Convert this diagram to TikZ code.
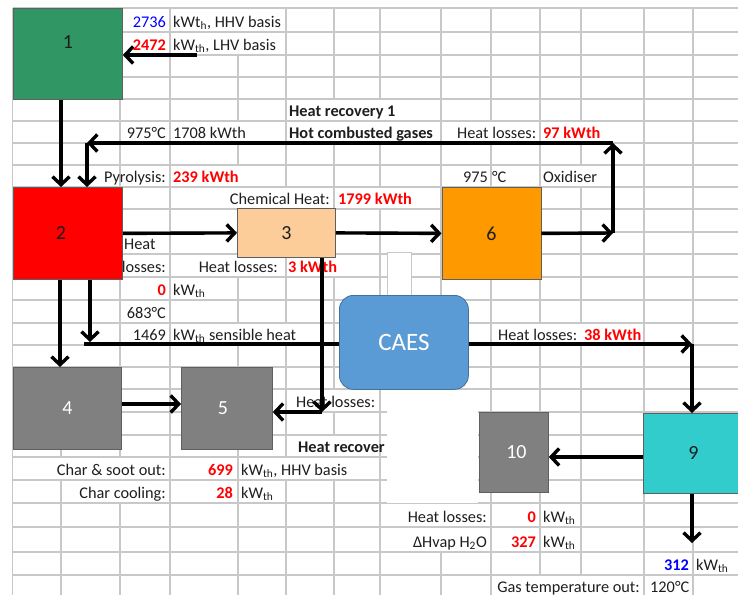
\documentclass[tikz,border=0pt]{standalone}
\usepackage{fontspec}
\setmainfont{Carlito}
\usetikzlibrary{arrows.meta}

\definecolor{gridgray}{RGB}{200,200,200}
\definecolor{boxedge}{RGB}{95,95,95}
\definecolor{cgreen}{RGB}{47,150,100}
\definecolor{cred}{RGB}{255,0,0}
\definecolor{cpeach}{RGB}{252,204,153}
\definecolor{corange}{RGB}{255,153,0}
\definecolor{cgray}{RGB}{128,128,128}
\definecolor{ccyan}{RGB}{51,204,204}
\definecolor{cblue}{RGB}{91,155,213}
\definecolor{cblueedge}{RGB}{65,113,156}
\definecolor{vred}{RGB}{255,0,0}
\definecolor{vblue}{RGB}{0,0,255}
\definecolor{ink}{RGB}{30,30,30}

\begin{document}
\begin{tikzpicture}[x=1pt,y=-1pt,
  gridline/.style={draw=gridgray, line width=1.4pt},
  box/.style={draw=boxedge, line width=0.8pt, anchor=north west, inner sep=0pt,
              font=\fontsize{20}{24}\selectfont},
  tag/.style={font=\fontsize{20}{24}\selectfont, inner sep=0pt},
  txt/.style={inner sep=0pt, font=\fontsize{16.3}{19}\selectfont, text=ink},
  val/.style={inner sep=0pt, font=\fontsize{16.3}{19}\selectfont\bfseries, text=vred},
  bval/.style={inner sep=0pt, font=\fontsize{16.3}{19}\selectfont\bfseries, text=vblue},
  hd/.style={inner sep=0pt, font=\fontsize{16.3}{19}\selectfont\bfseries, text=ink},
  arr/.style={draw=black, line width=3.4pt, -{Straight Barb[length=8pt,width=17pt]}},
  pipe/.style={draw=black, line width=3.4pt}
]
\useasboundingbox (0,0) rectangle (738,595);

% ---- spreadsheet grid: columns
\foreach \gx in {12.7,120,170,238,286,334,380,441,491,540,581,644,693}
  \draw[gridline] (\gx,8) -- (\gx,595);
\draw[gridline] (61,435) -- (61,595);

% cells where overflowing text hides the column line
\foreach \gx/\gt/\gb in {238/8/32, 238/32/55,
    334/99/121, 380/99/121,
    238/121/143, 334/121/143, 380/121/143, 491/121/143, 581/121/143,
    238/165/187, 581/165/187,
    238/187/209, 286/187/209, 380/187/209,
    238/254/277, 334/254/277,
    238/323/345, 286/323/345, 540/323/345, 581/323/345,
    334/389/412, 334/435/457,
    61/457/480, 120/457/480, 286/457/480, 334/457/480,
    120/480/503,
    441/503/527, 441/527/552,
    540/575/595, 581/575/595}
  \fill[white] ({\gx-2.5},\gt) rectangle ({\gx+2.5},\gb);

% ---- spreadsheet grid: rows
\foreach \gy in {8,32,55,77,99,121,143,165,187,209,232,254,277,300,323,345,367,389,412,435,457,480,503,527,552,575}
  \draw[gridline] (12.7,\gy) -- (738,\gy);

% ---- cell texts
\node[txt, text=vblue, anchor=base east] (t01) at (166,27) {2736};
\node[txt, anchor=base west] (t02) at (173,27) {kWt\textsubscript{h}, HHV basis};
\node[val, anchor=base east] (t03) at (166,50) {2472};
\node[txt, anchor=base west] (t04) at (173,50) {kW\textsubscript{th}, LHV basis};

\node[hd, anchor=base west] (t05) at (289,116) {Heat recovery 1};
\node[txt, anchor=base east] (t06) at (166,138) {975°C};
\node[txt, anchor=base west] (t07) at (173,138) {1708 kWth};
\node[hd, anchor=base west] (t08) at (289,138) {Hot combusted gases};
\node[txt, anchor=base west] (t09) at (457,138) {Heat losses:};
\node[val, anchor=base west] (t10) at (543,138) {97 kWth};

\node[txt, anchor=base east] (t11) at (166,182) {Pyrolysis:};
\node[val, anchor=base west] (t12) at (173,182) {239 kWth};
\node[txt, anchor=base east] (t13) at (488,182) {975};
\node[txt, anchor=base west] (t14) at (492,182) {°C};
\node[txt, anchor=base west] (t15) at (543,182) {Oxidiser};

\node[txt, anchor=base east] (t16) at (330,204) {Chemical Heat:};
\node[val, anchor=base west] (t17) at (338,204) {1799 kWth};

\node[txt, anchor=base west] (t18) at (124,249) {Heat};
\node[txt, anchor=base east] (t19) at (166,272) {losses:};
\node[txt, anchor=base east] (t20) at (278,272) {Heat losses:};
\node[val, anchor=base west] (t21) at (288,272) {3 kWth};

\node[val, anchor=base east] (t22) at (166,295) {0};
\node[txt, anchor=base west] (t23) at (173,295) {kW\textsubscript{th}};
\node[txt, anchor=base east] (t24) at (166,318) {683°C};
\node[txt, anchor=base east] (t25) at (166,340) {1469};
\node[txt, anchor=base west] (t26) at (173,340) {kW\textsubscript{th} sensible heat};
\node[txt, anchor=base west] (t27) at (498,340) {Heat losses:};
\node[val, anchor=base west] (t28) at (584,340) {38 kWth};

\node[txt, anchor=base west] (t29) at (296,407) {Heat losses:};
\node[hd, anchor=base west] (t30) at (298,452) {Heat recover};

\node[txt, anchor=base east] (t31) at (166,475) {Char \& soot out:};
\node[val, anchor=base east] (t32) at (233,475) {699};
\node[txt, anchor=base west] (t33) at (241,475) {kW\textsubscript{th}, HHV basis};
\node[txt, anchor=base east] (t34) at (166,498) {Char cooling:};
\node[val, anchor=base east] (t35) at (233,498) {28};
\node[txt, anchor=base west] (t36) at (241,498) {kW\textsubscript{th}};

\node[txt, anchor=base east] (t37) at (487,522) {Heat losses:};
\node[val, anchor=base east] (t38) at (536,522) {0};
\node[txt, anchor=base west] (t39) at (543,522) {kW\textsubscript{th}};
\node[txt, anchor=base east] (t40) at (487,547) {ΔHvap H\textsubscript{2}O};
\node[val, anchor=base east] (t41) at (536,547) {327};
\node[txt, anchor=base west] (t42) at (543,547) {kW\textsubscript{th}};
\node[bval, anchor=base east] (t43) at (689,570) {312};
\node[txt, anchor=base west] (t44) at (696,570) {kW\textsubscript{th}};
\node[txt, anchor=base east] (t45) at (640,592) {Gas temperature out:};
\node[txt, anchor=base west] (t46) at (650,592) {120°C};

% ---- blank white panels
\fill[white, draw=gridgray, line width=0.6pt] (387,252) rectangle (411,295);
\fill[white] (387,390) rectangle (478,503);

% ---- process blocks
\node[box, fill=cgreen, minimum width=109pt, minimum height=91pt,
      label={[tag, text=ink, yshift=11.5pt]center:1}] (b1) at (13,8) {};
\node[box, fill=cred, minimum width=109pt, minimum height=92pt,
      label={[tag, text=ink, xshift=-7pt]center:2}] (b2) at (13,187) {};
\node[box, fill=cpeach, minimum width=98pt, minimum height=49pt, text=ink] (b3) at (237,208) {3};
\node[box, fill=corange, minimum width=99pt, minimum height=92pt, text=ink] (b6) at (441.5,187) {6};
\node[box, fill=cblue, draw=cblueedge, rounded corners=14pt, minimum width=129pt,
      minimum height=94pt, text=white, font=\fontsize{25}{30}\selectfont] (caes) at (339,295) {CAES};
\node[box, fill=cgray, minimum width=108pt, minimum height=82pt, text=white] (b4) at (13,367) {4};
\node[box, fill=cgray, minimum width=91pt, minimum height=82pt,
      label={[tag, text=white, xshift=-4pt]center:5}] (b5) at (181,367) {};
\node[box, fill=cgray, minimum width=69pt, minimum height=80pt,
      label={[tag, text=white, xshift=2.5pt]center:10}] (b10) at (479,412) {};
\node[box, fill=ccyan, minimum width=100pt, minimum height=80pt, text=ink] (b9) at (643,413) {9};

% ---- flows
\coordinate (in1) at (197,55);
\draw[arr] (in1) -- (in1 -| b1.east);
\coordinate (x61) at (61,0);
\draw[arr] (b1.south -| x61) -- (b2.north -| x61);

\coordinate (c1) at (613,233);
\coordinate (c2) at (613,143);
\coordinate (c3) at (87,143);
\draw[arr] (b6.east) -- (c1);
\draw[arr] (c1) -- (c2);
\draw[arr] (c2) -- (c3);
\draw[arr] (c3) -- (c3 |- b2.north);

\draw[arr] (b2.east) -- (b3.west);
\draw[arr] (b3.east) -- (b6.west);

\coordinate (c4) at (322,412);
\draw[arr] (b3.south -| c4) -- (c4);
\draw[arr] (c4) -- (c4 -| b5.east);

\coordinate (x60) at (60,0);
\draw[arr] (b2.south -| x60) -- (b4.north -| x60);
\coordinate (c5) at (90,342);
\draw[arr] (b2.south -| c5) -- (c5);
\coordinate (c6) at (84,344);
\draw[pipe] (c6) -- (c6 -| caes.west);
\coordinate (c7) at (692,344);
\draw[arr] (c7 -| caes.east) -- (c7);
\draw[arr] (c7) -- (c7 |- b9.north);

\coordinate (r404) at (0,404);
\draw[arr] (b4.east |- r404) -- (b5.west |- r404);
\coordinate (r457) at (0,457);
\draw[arr] (b9.west |- r457) -- (b10.east |- r457);
\coordinate (c8) at (692,543);
\draw[arr] (b9.south -| c8) -- (c8);
\end{tikzpicture}
\end{document}
